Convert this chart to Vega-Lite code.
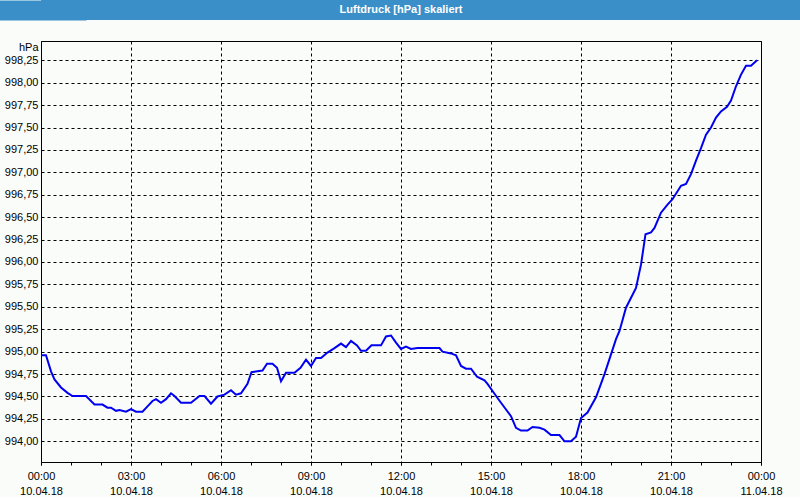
{
  "$schema": "https://vega.github.io/schema/vega-lite/v6.json",
  "background": "#fafcfa",
  "padding": {"left": 3, "top": 0, "right": 0, "bottom": 0},
  "columns": 1,
  "align": "none",
  "spacing": 20,
  "config": {
    "font": "Liberation Sans",
    "locale": {"number": {"decimal": ",", "thousands": ".", "grouping": [3], "currency": ["", " €"]}}
  },
  "datasets": {
    "druck": [
      {"t": "2018-04-10T00:00", "p": 994.96},
      {"t": "2018-04-10T00:10", "p": 994.96},
      {"t": "2018-04-10T00:20", "p": 994.78},
      {"t": "2018-04-10T00:27", "p": 994.69},
      {"t": "2018-04-10T00:40", "p": 994.60},
      {"t": "2018-04-10T00:53", "p": 994.54},
      {"t": "2018-04-10T01:03", "p": 994.505},
      {"t": "2018-04-10T01:30", "p": 994.505},
      {"t": "2018-04-10T01:47", "p": 994.41},
      {"t": "2018-04-10T02:03", "p": 994.41},
      {"t": "2018-04-10T02:13", "p": 994.375},
      {"t": "2018-04-10T02:20", "p": 994.375},
      {"t": "2018-04-10T02:30", "p": 994.34},
      {"t": "2018-04-10T02:37", "p": 994.35},
      {"t": "2018-04-10T02:50", "p": 994.33},
      {"t": "2018-04-10T03:00", "p": 994.36},
      {"t": "2018-04-10T03:10", "p": 994.33},
      {"t": "2018-04-10T03:23", "p": 994.33},
      {"t": "2018-04-10T03:33", "p": 994.39},
      {"t": "2018-04-10T03:43", "p": 994.45},
      {"t": "2018-04-10T03:50", "p": 994.47},
      {"t": "2018-04-10T04:00", "p": 994.43},
      {"t": "2018-04-10T04:10", "p": 994.47},
      {"t": "2018-04-10T04:20", "p": 994.535},
      {"t": "2018-04-10T04:27", "p": 994.505},
      {"t": "2018-04-10T04:40", "p": 994.43},
      {"t": "2018-04-10T05:00", "p": 994.43},
      {"t": "2018-04-10T05:17", "p": 994.505},
      {"t": "2018-04-10T05:27", "p": 994.505},
      {"t": "2018-04-10T05:40", "p": 994.42},
      {"t": "2018-04-10T05:53", "p": 994.50},
      {"t": "2018-04-10T06:07", "p": 994.52},
      {"t": "2018-04-10T06:20", "p": 994.57},
      {"t": "2018-04-10T06:30", "p": 994.52},
      {"t": "2018-04-10T06:40", "p": 994.535},
      {"t": "2018-04-10T06:53", "p": 994.64},
      {"t": "2018-04-10T07:01", "p": 994.77},
      {"t": "2018-04-10T07:23", "p": 994.79},
      {"t": "2018-04-10T07:32", "p": 994.865},
      {"t": "2018-04-10T07:43", "p": 994.865},
      {"t": "2018-04-10T07:52", "p": 994.82},
      {"t": "2018-04-10T08:00", "p": 994.67},
      {"t": "2018-04-10T08:10", "p": 994.765},
      {"t": "2018-04-10T08:27", "p": 994.765},
      {"t": "2018-04-10T08:39", "p": 994.82},
      {"t": "2018-04-10T08:50", "p": 994.91},
      {"t": "2018-04-10T09:00", "p": 994.84},
      {"t": "2018-04-10T09:10", "p": 994.93},
      {"t": "2018-04-10T09:20", "p": 994.93},
      {"t": "2018-04-10T09:33", "p": 994.99},
      {"t": "2018-04-10T09:47", "p": 995.04},
      {"t": "2018-04-10T10:00", "p": 995.09},
      {"t": "2018-04-10T10:10", "p": 995.05},
      {"t": "2018-04-10T10:20", "p": 995.12},
      {"t": "2018-04-10T10:32", "p": 995.07},
      {"t": "2018-04-10T10:40", "p": 995.01},
      {"t": "2018-04-10T10:50", "p": 995.01},
      {"t": "2018-04-10T11:01", "p": 995.07},
      {"t": "2018-04-10T11:20", "p": 995.07},
      {"t": "2018-04-10T11:30", "p": 995.17},
      {"t": "2018-04-10T11:40", "p": 995.18},
      {"t": "2018-04-10T11:50", "p": 995.10},
      {"t": "2018-04-10T12:00", "p": 995.03},
      {"t": "2018-04-10T12:10", "p": 995.055},
      {"t": "2018-04-10T12:20", "p": 995.03},
      {"t": "2018-04-10T12:33", "p": 995.04},
      {"t": "2018-04-10T13:17", "p": 995.04},
      {"t": "2018-04-10T13:23", "p": 995.00},
      {"t": "2018-04-10T13:40", "p": 994.98},
      {"t": "2018-04-10T13:50", "p": 994.96},
      {"t": "2018-04-10T14:00", "p": 994.84},
      {"t": "2018-04-10T14:10", "p": 994.81},
      {"t": "2018-04-10T14:20", "p": 994.81},
      {"t": "2018-04-10T14:32", "p": 994.72},
      {"t": "2018-04-10T14:47", "p": 994.68},
      {"t": "2018-04-10T14:53", "p": 994.64},
      {"t": "2018-04-10T15:07", "p": 994.53},
      {"t": "2018-04-10T15:20", "p": 994.43},
      {"t": "2018-04-10T15:40", "p": 994.28},
      {"t": "2018-04-10T15:50", "p": 994.15},
      {"t": "2018-04-10T16:00", "p": 994.12},
      {"t": "2018-04-10T16:13", "p": 994.12},
      {"t": "2018-04-10T16:23", "p": 994.16},
      {"t": "2018-04-10T16:37", "p": 994.15},
      {"t": "2018-04-10T16:47", "p": 994.13},
      {"t": "2018-04-10T17:00", "p": 994.07},
      {"t": "2018-04-10T17:17", "p": 994.07},
      {"t": "2018-04-10T17:27", "p": 994.00},
      {"t": "2018-04-10T17:40", "p": 994.00},
      {"t": "2018-04-10T17:50", "p": 994.05},
      {"t": "2018-04-10T18:00", "p": 994.26},
      {"t": "2018-04-10T18:13", "p": 994.32},
      {"t": "2018-04-10T18:30", "p": 994.49},
      {"t": "2018-04-10T18:47", "p": 994.75},
      {"t": "2018-04-10T19:00", "p": 994.97},
      {"t": "2018-04-10T19:10", "p": 995.14},
      {"t": "2018-04-10T19:17", "p": 995.23},
      {"t": "2018-04-10T19:30", "p": 995.49},
      {"t": "2018-04-10T19:50", "p": 995.71},
      {"t": "2018-04-10T20:00", "p": 995.97},
      {"t": "2018-04-10T20:09", "p": 996.31},
      {"t": "2018-04-10T20:20", "p": 996.33},
      {"t": "2018-04-10T20:27", "p": 996.38},
      {"t": "2018-04-10T20:40", "p": 996.55},
      {"t": "2018-04-10T20:53", "p": 996.64},
      {"t": "2018-04-10T21:03", "p": 996.70},
      {"t": "2018-04-10T21:20", "p": 996.85},
      {"t": "2018-04-10T21:30", "p": 996.87},
      {"t": "2018-04-10T21:40", "p": 996.98},
      {"t": "2018-04-10T21:50", "p": 997.13},
      {"t": "2018-04-10T22:00", "p": 997.27},
      {"t": "2018-04-10T22:10", "p": 997.42},
      {"t": "2018-04-10T22:20", "p": 997.50},
      {"t": "2018-04-10T22:30", "p": 997.61},
      {"t": "2018-04-10T22:40", "p": 997.68},
      {"t": "2018-04-10T22:52", "p": 997.73},
      {"t": "2018-04-10T23:00", "p": 997.80},
      {"t": "2018-04-10T23:10", "p": 997.96},
      {"t": "2018-04-10T23:20", "p": 998.09},
      {"t": "2018-04-10T23:30", "p": 998.19},
      {"t": "2018-04-10T23:40", "p": 998.19},
      {"t": "2018-04-10T23:52", "p": 998.25}
    ]
  },
  "concat": [
    {
      "width": 760,
      "height": 20,
      "view": {"fill": "#3b8fc8", "stroke": null},
      "data": {"values": [{"label": "Luftdruck [hPa] skaliert"}]},
      "mark": {"type": "text", "color": "white", "fontWeight": "bold", "fontSize": 11, "font": "Liberation Sans", "baseline": "middle", "align": "center", "dx": -20},
      "encoding": {
        "text": {"field": "label"},
        "y": {
          "field": "label",
          "type": "nominal",
          "axis": {"title": null, "labels": false, "ticks": false, "grid": false, "domain": true, "domainColor": "#3b8fc8", "domainWidth": 90}
        }
      }
    },
    {
      "width": 720,
      "height": 421,
      "view": {"stroke": "black", "strokeWidth": 1},
      "data": {"name": "druck"},
      "encoding": {
        "y": {
          "field": "p",
          "type": "quantitative",
          "scale": {"domain": [993.769, 998.465], "nice": false, "zero": false},
          "axis": {
            "title": "hPa",
            "titleAngle": 0,
            "titleAlign": "right",
            "titleBaseline": "middle",
            "titleX": -3,
            "titleY": 6,
            "titleFontSize": 11,
            "titleFontWeight": "normal",
            "titleColor": "black",
            "values": [994, 994.25, 994.5, 994.75, 995, 995.25, 995.5, 995.75, 996, 996.25, 996.5, 996.75, 997, 997.25, 997.5, 997.75, 998, 998.25],
            "format": ".2f",
            "labelFontSize": 11,
            "labelColor": "black",
            "labelPadding": 3,
            "ticks": false,
            "domain": false,
            "grid": true,
            "gridColor": "black",
            "gridDash": [3, 3]
          }
        }
      },
      "layer": [
        {
          "mark": {"type": "line", "color": "#0000f0", "strokeWidth": 2},
          "encoding": {
            "x": {
              "field": "t",
              "type": "temporal",
              "scale": {"domain": ["2018-04-10T00:00", "2018-04-11T00:00"], "nice": false},
              "axis": {
                "orient": "bottom",
                "title": null,
                "format": "%H:%M",
                "tickCount": 8,
                "labelFlush": false,
                "labelOverlap": false,
                "labelFontSize": 11,
                "labelColor": "black",
                "labelPadding": 5,
                "tickColor": "black",
                "tickSize": 3,
                "domain": false,
                "grid": true,
                "gridColor": "black",
                "gridDash": [3, 3]
              }
            }
          }
        },
        {
          "mark": {"type": "line", "opacity": 0},
          "encoding": {
            "x": {
              "field": "t",
              "type": "temporal",
              "axis": {
                "orient": "bottom",
                "title": null,
                "format": "%d.%m.%y",
                "tickCount": 8,
                "labelFlush": false,
                "labelOverlap": false,
                "labelFontSize": 11,
                "labelColor": "black",
                "labelPadding": 20,
                "tickSize": 3,
                "tickOpacity": 0,
                "domain": false,
                "grid": false
              }
            }
          }
        },
        {
          "mark": {"type": "line", "opacity": 0},
          "encoding": {
            "x": {
              "field": "t",
              "type": "temporal",
              "axis": {
                "orient": "bottom",
                "title": null,
                "tickCount": 24,
                "labels": false,
                "tickColor": "black",
                "tickSize": 3,
                "domain": false,
                "grid": false
              }
            }
          }
        }
      ],
      "resolve": {"axis": {"x": "independent"}}
    }
  ]
}
